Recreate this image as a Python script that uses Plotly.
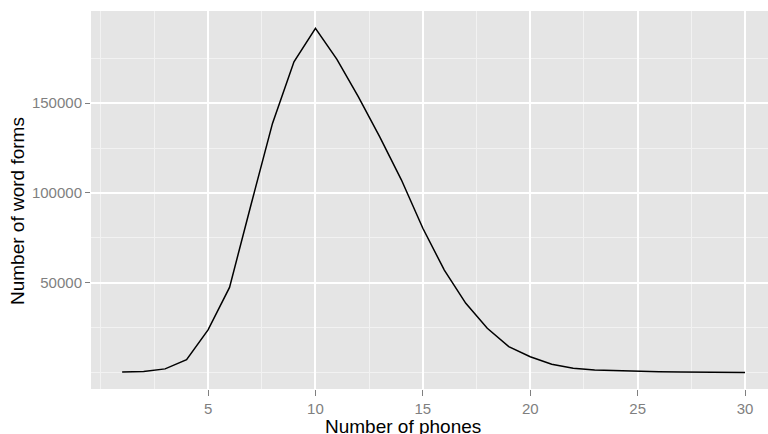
import plotly.graph_objects as go

# Word-form counts by length in phones
phones = list(range(1, 31))
word_forms = [
    300, 600, 2000, 7100, 23700, 47400, 93400, 138700, 173000, 191700,
    174400, 153500, 131100, 107300, 80300, 57000, 38500, 24600, 14400, 8800,
    4600, 2300, 1400, 1000, 650, 400, 250, 150, 80, 40,
]

x_major = [5, 10, 15, 20, 25, 30]
x_minor = [0, 2.5, 7.5, 12.5, 17.5, 22.5, 27.5]
y_major = [50000, 100000, 150000]
y_minor = [0, 25000, 75000, 125000, 175000]

tick_font = dict(family="Liberation Sans, Arial, sans-serif", size=15, color="#7F7F7F")
title_font = dict(family="Liberation Sans, Arial, sans-serif", size=19, color="#000000")

fig = go.Figure()
fig.add_trace(go.Scatter(
    x=phones, y=word_forms, mode="lines",
    line=dict(color="black", width=1.5),
    showlegend=False, hoverinfo="skip",
))

fig.update_layout(
    width=768, height=434,
    margin=dict(l=91, r=0, t=11, b=45),
    paper_bgcolor="white",
    plot_bgcolor="#E5E5E5",
    xaxis=dict(
        range=[-0.45, 31.07],
        tickvals=x_major, ticktext=[str(v) for v in x_major],
        ticks="outside", ticklen=6, tickwidth=1, tickcolor="#7F7F7F",
        tickfont=tick_font,
        showgrid=True, gridcolor="white", gridwidth=2,
        minor=dict(tickvals=x_minor, showgrid=True, gridcolor="#F2F2F2",
                   gridwidth=1, ticks=""),
        zeroline=False, showline=False,
    ),
    yaxis=dict(
        range=[-9200, 201300],
        tickvals=y_major, ticktext=[str(v) for v in y_major],
        ticks="outside", ticklen=5, tickwidth=1, tickcolor="#7F7F7F",
        tickfont=tick_font,
        showgrid=True, gridcolor="white", gridwidth=2,
        minor=dict(tickvals=y_minor, showgrid=True, gridcolor="#F2F2F2",
                   gridwidth=1, ticks=""),
        zeroline=False, showline=False,
    ),
    annotations=[
        dict(text="Number of phones", xref="paper", yref="paper",
             x=(403 - 91) / (768 - 91), y=-(426 - 389) / (389 - 11),
             xanchor="center", yanchor="middle", showarrow=False,
             font=title_font),
        dict(text="Number of word forms", xref="paper", yref="paper",
             x=-(91 - 17) / (768 - 91), y=(389 - 211) / (389 - 11),
             xanchor="center", yanchor="middle", textangle=-90,
             showarrow=False, font=title_font),
    ],
)

fig.write_html("out.html")
